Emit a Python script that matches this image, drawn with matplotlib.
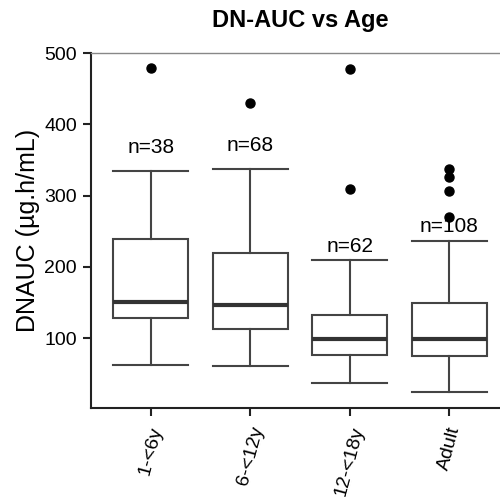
import matplotlib
matplotlib.use("Agg")
import matplotlib.pyplot as plt

plt.rcParams['font.family'] = ['Liberation Sans', 'DejaVu Sans']

groups = ['1-<6y', '6-<12y', '12-<18y', 'Adult']
counts = [38, 68, 62, 108]

# box stats (ug.h/mL)
whislo = [63, 61.5, 37, 24]
q1 = [129, 112.5, 76.5, 75]
med = [151, 146.5, 98.5, 99]
q3 = [239, 219, 132.5, 149]
whishi = [334, 337, 210, 237]
fliers = [[479], [430], [478, 310], [337, 326, 307, 270]]

# where the n= labels sit
label_y = [367, 370, 229, 257]

stats = []
for i in range(len(groups)):
    stats.append(dict(whislo=whislo[i], q1=q1[i], med=med[i], q3=q3[i],
                      whishi=whishi[i], fliers=fliers[i], label=groups[i]))

fig = plt.figure(figsize=(5, 4.97), dpi=100)
ax = fig.add_axes([0.182, 0.179, 0.836, 0.714])

box_col = '#444444'
ax.bxp(stats, positions=[1, 2, 3, 4], widths=0.75, patch_artist=True,
       boxprops=dict(facecolor='white', edgecolor=box_col, linewidth=1.5),
       whiskerprops=dict(color=box_col, linewidth=1.5),
       capprops=dict(color=box_col, linewidth=1.5),
       medianprops=dict(color='#333333', linewidth=3),
       flierprops=dict(marker='o', markerfacecolor='black', markeredgecolor='black',
                       markersize=6.5),
       capwidths=0.75)

for i, n in enumerate(counts):
    ax.text(i + 1, label_y[i], 'n=%d' % n, ha='center', va='center', fontsize=15)

ax.set_xlim(0.4, 4.6)
ax.set_ylim(2, 500)
ax.set_yticks([100, 200, 300, 400, 500])
ax.set_xticks([1, 2, 3, 4])
ax.set_xticklabels(groups, rotation=75, ha='center', va='top')
ax.tick_params(axis='both', labelsize=14, length=6, width=1.5, color='#222222')
ax.tick_params(axis='x', pad=6)
ax.tick_params(axis='y', pad=4)

ax.spines['left'].set_linewidth(1.5)
ax.spines['left'].set_color('#222222')
ax.spines['bottom'].set_linewidth(1.5)
ax.spines['bottom'].set_color('#222222')
ax.spines['top'].set_linewidth(1)
ax.spines['top'].set_color('#888888')

ax.set_ylabel('DNAUC (µg.h/mL)', fontsize=18, labelpad=3)
fig.text(0.6, 0.958, 'DN-AUC vs Age', ha='center', va='center',
         fontsize=17, fontweight='bold')

fig.savefig('out.png', dpi=100)
